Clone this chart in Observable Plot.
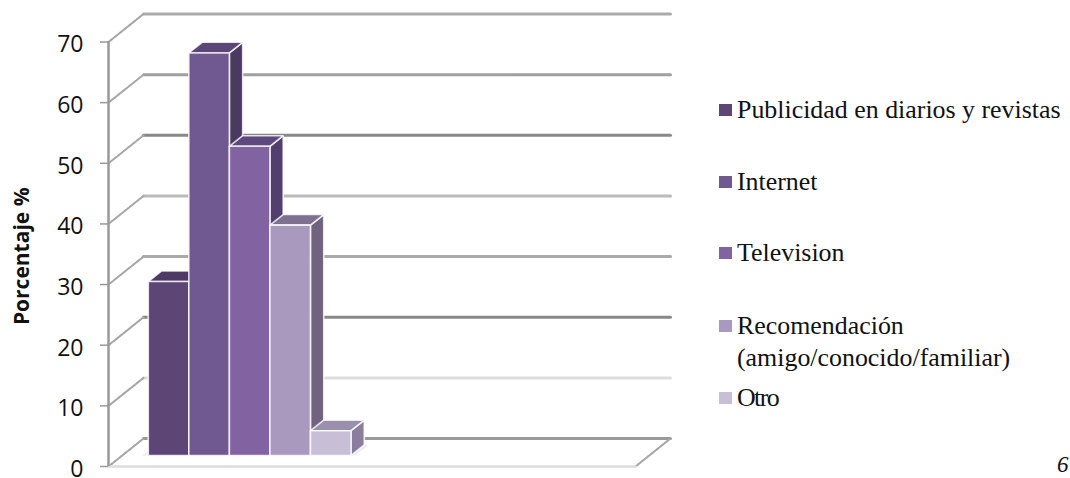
<!DOCTYPE html>
<html>
<head>
<meta charset="utf-8">
<script src="https://cdn.jsdelivr.net/npm/d3@7"></script>
<script src="https://cdn.jsdelivr.net/npm/@observablehq/plot@0.6"></script>
<style>
  html, body { margin: 0; padding: 0; background: #fff; overflow: hidden; }
  #chart { position: relative; width: 1070px; height: 478px; overflow: hidden; }
  #chart svg { display: block; background: transparent; }
  .legend-row { position: absolute; left: 719px; font: 25.9px/32px "Liberation Serif", serif; color: #111; white-space: nowrap; padding-left: 18px; }
  .legend-row i { position: absolute; left: 0; top: 10px; width: 13px; height: 12px; }
  #page-number { position: absolute; left: 1057px; top: 452px; font: italic 23px "Liberation Serif", serif; color: #111; }
</style>
</head>
<body>
<div id="chart"></div>
<script>
// Survey answers, one bar per source of information.
const categories = ["Publicidad en diarios y revistas", "Internet", "Television", "Recomendación (amigo/conocido/familiar)", "Otro"];
const values = [28.7, 66.4, 51, 38, 4.1];
const frontColors = ["#5d4676", "#705890", "#8263a2", "#a999be", "#c8bfd7"];
const sideColors = ["#4a3860", "#4a3960", "#523f6f", "#6f6380", "#8a7e9c"];
const topColors = ["#4f3a66", "#5c4678", "#5d4980", "#7d7090", "#9a8fac"];

const yTicks = [0, 10, 20, 30, 40, 50, 60, 70];
const gridColors = ["#999999", "#dddddd", "#888888", "#aaaaaa", "#bbbbbb", "#888888", "#a0a0a0", "#aaaaaa"];

// Oblique projection: depth 0 is the front plane of the box, depth 1 the back wall.
const slotCount = 13;
const depthX = 0.863;
const depthY = 4.61;
const project = (x, v, d) => ({x: x + d * depthX, y: v + d * depthY});

const barStart = 0.645;
const barNear = 0.39;
const barFar = 0.77;

function barFaces(v, i) {
  const x0 = barStart + i, x1 = x0 + 1;
  const face = (name, fill, corners) => {
    const pts = corners.map(([x, y, d]) => ({face: `${i}-${name}`, fill, ...project(x, y, d)}));
    return [...pts, pts[0]];
  };
  return [
    ...face("side", sideColors[i], [[x1, 0, barNear], [x1, 0, barFar], [x1, v, barFar], [x1, v, barNear]]),
    ...face("top", topColors[i], [[x0, v, barNear], [x1, v, barNear], [x1, v, barFar], [x0, v, barFar]]),
    ...face("front", frontColors[i], [[x0, 0, barNear], [x1, 0, barNear], [x1, v, barNear], [x0, v, barNear]])
  ];
}

const faces = values.flatMap(barFaces);

// Back-wall gridlines and the diagonals that carry them to the front plane.
const wallLines = yTicks.flatMap((v, i) => [
  {tick: v, stroke: gridColors[i], ...project(0, v, 1)},
  {tick: v, stroke: gridColors[i], ...project(slotCount, v, 1)}
]);
const diagonals = yTicks.flatMap((v) => [
  {tick: v, ...project(0, v, 0)},
  {tick: v, ...project(0, v, 1)}
]);
const floorEdge = [project(slotCount, 0, 0), project(slotCount, 0, 1)];
const floorFront = [project(0, 0, 0), project(slotCount, 0, 0)];
const shadow = [
  project(barStart - 0.15, 0, barNear),
  project(barStart + values.length + 0.1, 0, barNear),
  project(barStart + values.length + 0.1, 0, barFar),
  project(barStart - 0.15, 0, barFar)
];

const plot = Plot.plot({
  width: 1070,
  height: 478,
  marginLeft: 108,
  marginRight: 435,
  marginTop: 41.5,
  marginBottom: 12,
  x: {domain: [0, slotCount], axis: null},
  y: {domain: [0, 70]},
  color: {type: "identity"},
  style: {background: "transparent"},
  marks: [
    Plot.line(wallLines, {x: "x", y: "y", z: "tick", stroke: "stroke", strokeWidth: 3}),
    Plot.line(diagonals, {x: "x", y: "y", z: "tick", stroke: "#a6a6a6", strokeWidth: 2, strokeDasharray: "5 1"}),
    Plot.line(floorEdge, {x: "x", y: "y", stroke: "#a6a6a6", strokeWidth: 2, strokeDasharray: "5 1"}),
    Plot.line(floorFront, {x: "x", y: "y", stroke: "#dddddd", strokeWidth: 2.5}),
    Plot.line(shadow, {x: "x", y: "y", fill: "#ececec", stroke: "none"}),
    Plot.ruleX([0], {y1: 0, y2: 70, stroke: "#999999", strokeWidth: 2.5}),
    Plot.axisY({
      ticks: yTicks,
      tickSize: 8,
      stroke: "#999999",
      strokeWidth: 1.5,
      text: null,
      label: null
    }),
    Plot.axisY({
      ticks: yTicks,
      tickSize: 0,
      tickPadding: 25,
      dy: 3,
      label: null,
      fontSize: 23,
      fontFamily: "Open Sans",
      fill: "#111"
    }),
    Plot.text(["Porcentaje %"], {
      frameAnchor: "left",
      textAnchor: "middle",
      rotate: -90,
      dx: -86,
      dy: 2,
      fontSize: 21,
      fontWeight: "bold",
      fontFamily: "Open Sans",
      fill: "#111"
    }),
    Plot.line(faces, {
      x: "x",
      y: "y",
      z: "face",
      fill: "fill",
      stroke: "#ffffff",
      strokeOpacity: 0.8,
      strokeWidth: 1.6,
      strokeLinejoin: "miter"
    })
  ]
});

const chart = document.getElementById("chart");
chart.appendChild(plot);

// Key on the right; the long entry breaks over two lines.
const legendTops = [94, 166, 237, 310, 382];
const legendLines = [
  ["Publicidad en diarios y revistas"],
  ["Internet"],
  ["Television"],
  ["Recomendación", "(amigo/conocido/familiar)"],
  ["Otro"]
];
legendLines.forEach((lines, i) => {
  const row = document.createElement("div");
  row.className = "legend-row";
  row.style.top = legendTops[i] + "px";
  if (categories[i] === "Otro") row.style.letterSpacing = "-1.6px";
  const swatch = document.createElement("i");
  swatch.style.background = frontColors[i];
  row.appendChild(swatch);
  lines.forEach((line, k) => {
    if (k) row.appendChild(document.createElement("br"));
    row.appendChild(document.createTextNode(line));
  });
  chart.appendChild(row);
});

const pageNumber = document.createElement("div");
pageNumber.id = "page-number";
pageNumber.textContent = "6";
chart.appendChild(pageNumber);
</script>
</body>
</html>
